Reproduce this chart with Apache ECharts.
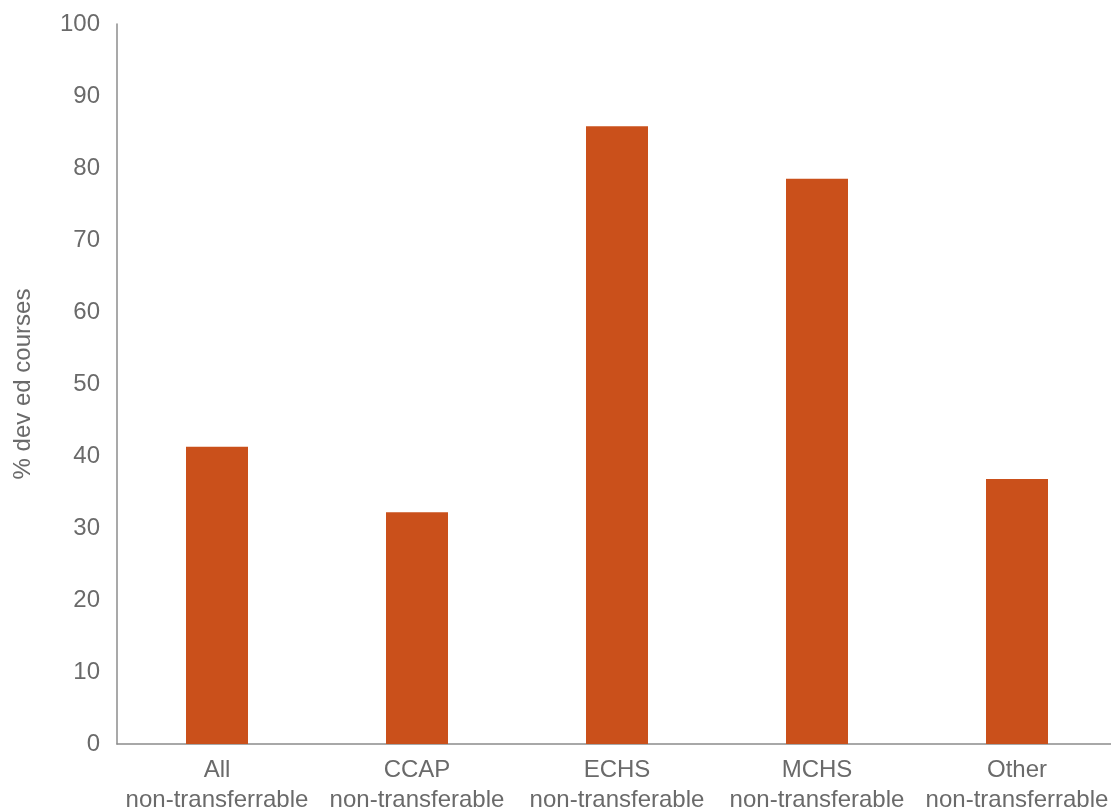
<!DOCTYPE html>
<html>
<head>
<meta charset="utf-8">
<script src="https://cdn.jsdelivr.net/npm/echarts@6/dist/echarts.min.js"></script>
<style>
html,body{margin:0;padding:0;background:#fff;}
#chart{width:1111px;height:811px;}
</style>
</head>
<body>
<div id="chart"></div>
<script>
const categories = ["All\nnon-transferrable", "CCAP\nnon-transferable", "ECHS\nnon-transferable", "MCHS\nnon-transferable", "Other\nnon-transferrable"];
const values = [41.3, 32.2, 85.8, 78.5, 36.8];
const yTicks = { min: 0, max: 100, interval: 10 };

const chart = echarts.init(document.getElementById('chart'));
chart.setOption({
  animation: false,
  grid: { left: 117, right: -6, top: 24, bottom: 67, containLabel: false, outerBoundsMode: 'none' },
  xAxis: {
    type: 'category',
    data: categories,
    axisLine: { lineStyle: { color: '#8c8c8c', width: 1.5 } },
    axisTick: { show: false },
    axisLabel: { color: '#6a6a6a', fontSize: 24, fontFamily: 'Liberation Sans, Arial, sans-serif', lineHeight: 30, margin: 11, interval: 0 }
  },
  yAxis: {
    type: 'value',
    min: yTicks.min, max: yTicks.max, interval: yTicks.interval,
    name: '% dev ed courses',
    nameLocation: 'middle',
    nameGap: 82,
    nameTextStyle: { color: '#6a6a6a', fontSize: 24, fontFamily: 'Liberation Sans, Arial, sans-serif' },
    axisLine: { show: true, lineStyle: { color: '#8c8c8c', width: 1.5 } },
    axisTick: { show: false },
    splitLine: { show: false },
    axisLabel: { color: '#6a6a6a', fontSize: 24, fontFamily: 'Liberation Sans, Arial, sans-serif', margin: 17 }
  },
  series: [{
    type: 'bar',
    data: values,
    barWidth: '31%',
    itemStyle: { color: '#CA501B' }
  }]
});
</script>
</body>
</html>
